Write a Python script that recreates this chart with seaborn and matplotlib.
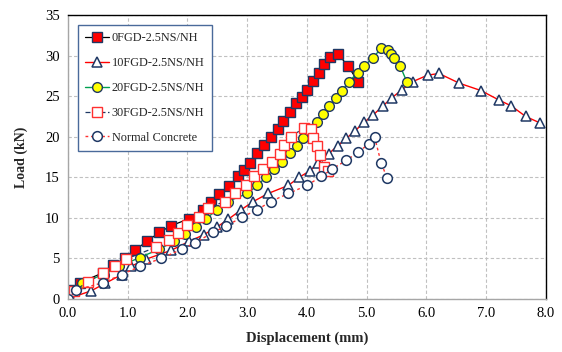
import matplotlib
matplotlib.use("Agg")
import matplotlib.pyplot as plt
import seaborn as sns
import pandas as pd

# ---- data ----
x_0fgd = [0, 0.03, 0.2, 0.58, 0.76, 0.95, 1.12, 1.32, 1.53, 1.72, 2.03, 2.26, 2.39, 2.53, 2.7, 2.84,
          2.95, 3.04, 3.17, 3.28, 3.39, 3.51, 3.6, 3.71, 3.81, 3.91, 4.0, 4.1, 4.2, 4.28, 4.38, 4.52,
          4.69, 4.86]
y_0fgd = [0, 1.1, 2.0, 3.2, 4.2, 5.0, 6.0, 7.1, 8.2, 9.0, 9.9, 11.0, 12.0, 12.9, 13.9, 15.1,
          15.9, 16.8, 18.0, 19.0, 20.0, 21.0, 22.0, 23.1, 24.1, 24.9, 25.8, 26.9, 27.9, 29.0, 29.8, 30.2,
          28.7, 26.7]

x_10fgd = [0, 0.39, 0.62, 0.9, 1.05, 1.31, 1.73, 2.03, 2.27, 2.5, 2.68, 2.9, 3.1, 3.35, 3.69, 3.87,
           4.05, 4.18, 4.36, 4.52, 4.66, 4.8, 4.96, 5.11, 5.27, 5.42, 5.59, 5.77, 6.02, 6.21, 6.55,
           6.91, 7.22, 7.42, 7.66, 7.9]
y_10fgd = [0, 1.0, 1.9, 3.0, 4.0, 4.9, 6.0, 7.1, 7.9, 8.9, 9.8, 11.0, 12.0, 13.0, 14.0, 15.0,
           15.8, 16.7, 17.9, 18.9, 19.8, 20.7, 21.8, 22.7, 23.8, 24.8, 25.8, 26.8, 27.6, 27.8, 26.6,
           25.7, 24.5, 23.8, 22.5, 21.7]

x_20fgd = [0, 0.1, 0.23, 0.6, 0.86, 1.2, 1.52, 1.78, 1.95, 2.14, 2.31, 2.5, 2.67, 3.0, 3.17, 3.31,
           3.45, 3.59, 3.71, 3.83, 3.93, 4.05, 4.16, 4.26, 4.37, 4.48, 4.59, 4.7, 4.85, 4.95, 5.1,
           5.24, 5.36, 5.41, 5.46, 5.56, 5.67]
y_20fgd = [0, 1.0, 2.0, 3.0, 4.0, 5.1, 6.1, 7.1, 8.0, 8.9, 9.9, 11.0, 12.0, 13.0, 14.0, 15.0,
           16.0, 16.9, 18.0, 18.9, 19.9, 20.9, 21.8, 22.8, 23.8, 24.8, 25.7, 26.8, 27.9, 28.7, 29.7,
           30.9, 30.7, 30.2, 29.7, 28.7, 26.8]

x_30fgd = [0, 0.1, 0.34, 0.59, 0.78, 0.97, 1.48, 1.69, 1.84, 2.0, 2.2, 2.34, 2.62, 2.8, 2.98, 3.12,
           3.26, 3.42, 3.55, 3.62, 3.73, 3.95, 4.07, 4.1, 4.17, 4.22, 4.28, 4.35]
y_30fgd = [0, 1.0, 2.1, 3.2, 4.0, 4.9, 6.4, 7.2, 8.1, 9.1, 10.1, 11.2, 12.0, 13.0, 14.0, 15.1,
           16.0, 16.9, 17.9, 19.0, 20.0, 21.1, 20.9, 19.9, 18.9, 17.8, 16.3, 15.8]

x_nc = [0, 0.14, 0.59, 0.9, 1.2, 1.56, 1.9, 2.12, 2.43, 2.65, 2.92, 3.17, 3.39, 3.69, 4.0, 4.24,
        4.42, 4.66, 4.86, 5.03, 5.13, 5.24, 5.34]
y_nc = [0, 1.1, 2.0, 3.0, 4.0, 5.0, 6.1, 6.9, 8.2, 9.0, 10.1, 11.0, 12.0, 13.0, 14.0, 15.1,
        16.0, 17.1, 18.1, 19.1, 20.0, 16.8, 14.9]

labels = ["0FGD-2.5NS/NH", "10FGD-2.5NS/NH", "20FGD-2.5NS/NH", "30FGD-2.5NS/NH", "Normal Concrete"]
x_ticks = [0, 1, 2, 3, 4, 5, 6, 7, 8]
y_ticks = [0, 5, 10, 15, 20, 25, 30, 35]

series = [
    (x_0fgd, y_0fgd), (x_10fgd, y_10fgd), (x_20fgd, y_20fgd), (x_30fgd, y_30fgd), (x_nc, y_nc)
]

# ---- style ----
sns.set_theme(style="white")
plt.rcParams["font.family"] = ["Liberation Serif", "DejaVu Serif"]

navy = "#1f3864"
styles = [
    dict(color="#000000", linestyle="-", linewidth=0.9, marker="s", markersize=7,
         markerfacecolor="#ff0000", markeredgecolor=navy, markeredgewidth=1.0),
    dict(color="#ff0000", linestyle="-", linewidth=1.0, marker="^", markersize=7.5,
         markerfacecolor="white", markeredgecolor=navy, markeredgewidth=1.1),
    dict(color="#00a050", linestyle="-", linewidth=1.0, marker="o", markersize=7,
         markerfacecolor="#ffff00", markeredgecolor=navy, markeredgewidth=1.0),
    dict(color=navy, linestyle=(0, (4, 2)), linewidth=0.9, marker="s", markersize=7,
         markerfacecolor="white", markeredgecolor="#ff3030", markeredgewidth=1.0),
    dict(color="#ff3030", linestyle=(0, (2, 2)), linewidth=1.0, marker="o", markersize=7,
         markerfacecolor="white", markeredgecolor=navy, markeredgewidth=1.1),
]

fig = plt.figure(figsize=(5.62, 3.52), dpi=100)
ax = fig.add_axes([0.121, 0.151, 0.8505, 0.806])

for (xs, ys), lab, st in zip(series, labels, styles):
    df = pd.DataFrame({"x": xs, "y": ys})
    sns.lineplot(data=df, x="x", y="y", ax=ax, sort=False, estimator=None, label=lab, **st)

ax.set_xlim(0, 8)
ax.set_ylim(0, 35)
ax.set_xticks(x_ticks)
ax.set_xticklabels([f"{v:.1f}" for v in x_ticks])
ax.set_yticks(y_ticks)
ax.set_yticklabels([str(v) for v in y_ticks])
ax.tick_params(axis="both", labelsize=10.5, length=0, pad=6, colors="#000000")

ax.grid(True, color="#c0c0c0", linestyle=(0, (3, 2)), linewidth=0.8)
ax.set_axisbelow(True)

for side in ["left", "bottom"]:
    ax.spines[side].set_color("#a6a6a6")
    ax.spines[side].set_linewidth(1.0)
for side in ["top", "right"]:
    ax.spines[side].set_color("#000000")
    ax.spines[side].set_linewidth(1.0)

ax.set_xlabel("Displacement (mm)", fontsize=10.5, fontweight="bold", labelpad=8)
ax.set_ylabel("Load (kN)", fontsize=10, fontweight="bold", labelpad=12)

leg = ax.legend(loc="upper left", bbox_to_anchor=(0.021, 0.965), fontsize=8.8,
                frameon=True, fancybox=False, labelspacing=1.05, handlelength=1.9,
                handletextpad=0.25, borderpad=0.6, borderaxespad=0.0)
leg.get_frame().set_edgecolor("#4a6a9a")
leg.get_frame().set_linewidth(1.0)
leg.get_frame().set_facecolor("white")
leg.get_frame().set_alpha(1.0)

fig.savefig("out.png", dpi=100)
